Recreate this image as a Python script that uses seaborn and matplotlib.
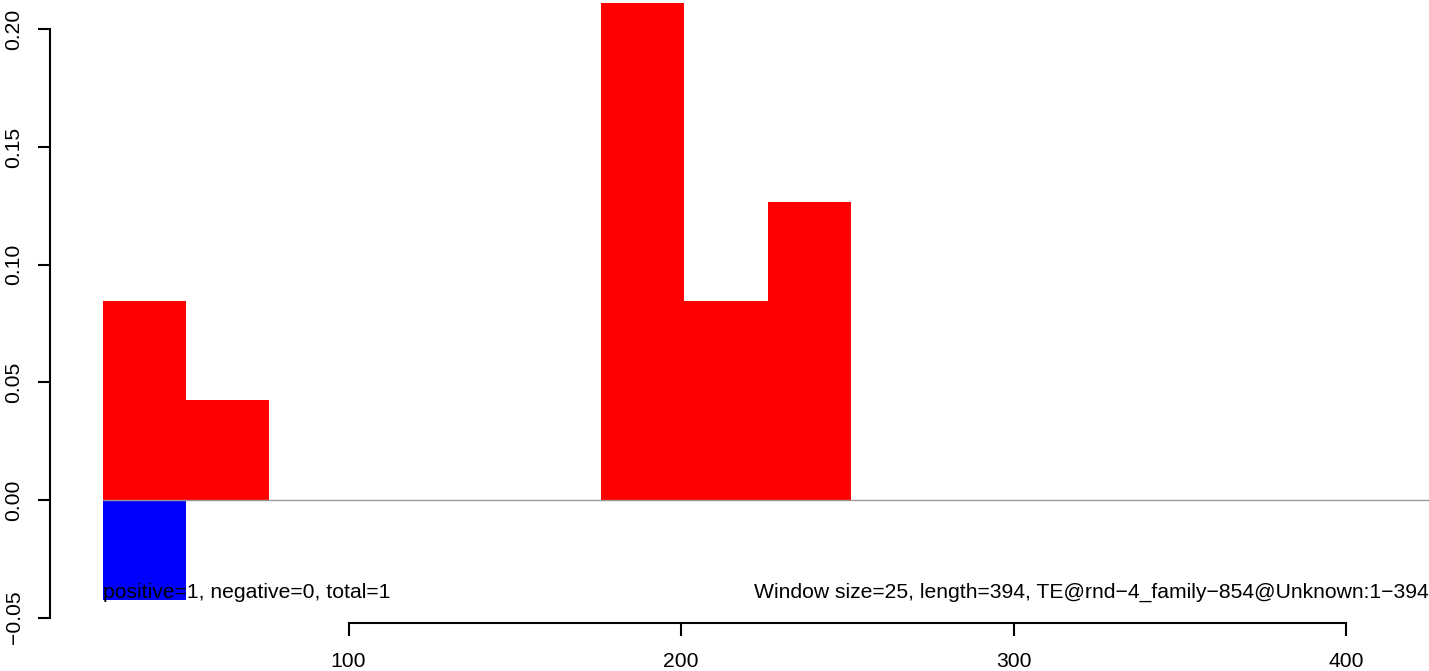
import numpy as np
import pandas as pd
import matplotlib
matplotlib.use("Agg")
import matplotlib.pyplot as plt
import seaborn as sns

# window data (start position of each 25bp window and its score)
window_size = 25
seq_length = 394
pos_starts = [26, 51, 176, 201, 226]
pos_values = [0.0845, 0.0423, 0.2113, 0.0845, 0.1268]
neg_starts = [26]
neg_values = [-0.0423]

y_ticks = [-0.05, 0.00, 0.05, 0.10, 0.15, 0.20]
y_tick_labels = ["\u22120.05", "0.00", "0.05", "0.10", "0.15", "0.20"]
x_ticks = [100, 200, 300, 400]

left_text = "positive=1, negative=0, total=1"
right_text = "Window size=25, length=394, TE@rnd\u22124_family\u2212854@Unknown:1\u2212394"

sns.set_style("white")
plt.rcParams['font.family'] = ['Liberation Sans', 'DejaVu Sans']
plt.rcParams['text.color'] = 'black'
plt.rcParams['xtick.color'] = 'black'
plt.rcParams['ytick.color'] = 'black'

W, H = 1429, 671
fig = plt.figure(figsize=(W / 100, H / 100), dpi=100)
# plot region in pixels: left 50, bottom 623 (from top), right 1429, top 0
ax = fig.add_axes([50 / W, (H - 623) / H, (W - 50) / W, 623 / H])

df = pd.DataFrame({
    "mid": np.concatenate([np.array(pos_starts), np.array(neg_starts)]) + window_size / 2,
    "value": pos_values + neg_values,
    "strand": ["pos"] * len(pos_starts) + ["neg"] * len(neg_starts),
})

sns.barplot(data=df, x="mid", y="value", hue="strand", native_scale=True,
            width=1, dodge=False, errorbar=None, saturation=1,
            palette={"pos": "#ff0000", "neg": "#0000ff"},
            linewidth=0, edgecolor="none", legend=False, ax=ax)

xlim = (10.2, 424.9)
ylim = (-0.05227, 0.2125)
ax.plot([pos_starts[0], xlim[1]], [0, 0], color="#999999", lw=1.0, zorder=1)

fs = 15.2
ax.text(pos_starts[0], -0.0391, left_text, ha="left", va="center", fontsize=fs)
ax.text(xlim[1], -0.0391, right_text, ha="right", va="center", fontsize=fs)

ax.set_xlim(*xlim)
ax.set_ylim(*ylim)
ax.set_xlabel("")
ax.set_ylabel("")

for s in ["top", "right"]:
    ax.spines[s].set_visible(False)
for s in ["left", "bottom"]:
    ax.spines[s].set_color("black")
    ax.spines[s].set_linewidth(1.5)
ax.spines["left"].set_bounds(y_ticks[0], y_ticks[-1])
ax.spines["bottom"].set_bounds(x_ticks[0], x_ticks[-1])

ax.set_yticks(y_ticks)
ax.set_yticklabels(y_tick_labels, rotation=90, va="center")
ax.set_xticks(x_ticks)
ax.set_xticklabels([str(t) for t in x_ticks])
ax.tick_params(axis="both", direction="out", length=9, width=1.5, color="black",
               labelcolor="black", labelsize=fs, left=True, bottom=True)
ax.tick_params(axis="y", pad=10)
ax.tick_params(axis="x", pad=12)

fig.savefig("out.png", dpi=100)
